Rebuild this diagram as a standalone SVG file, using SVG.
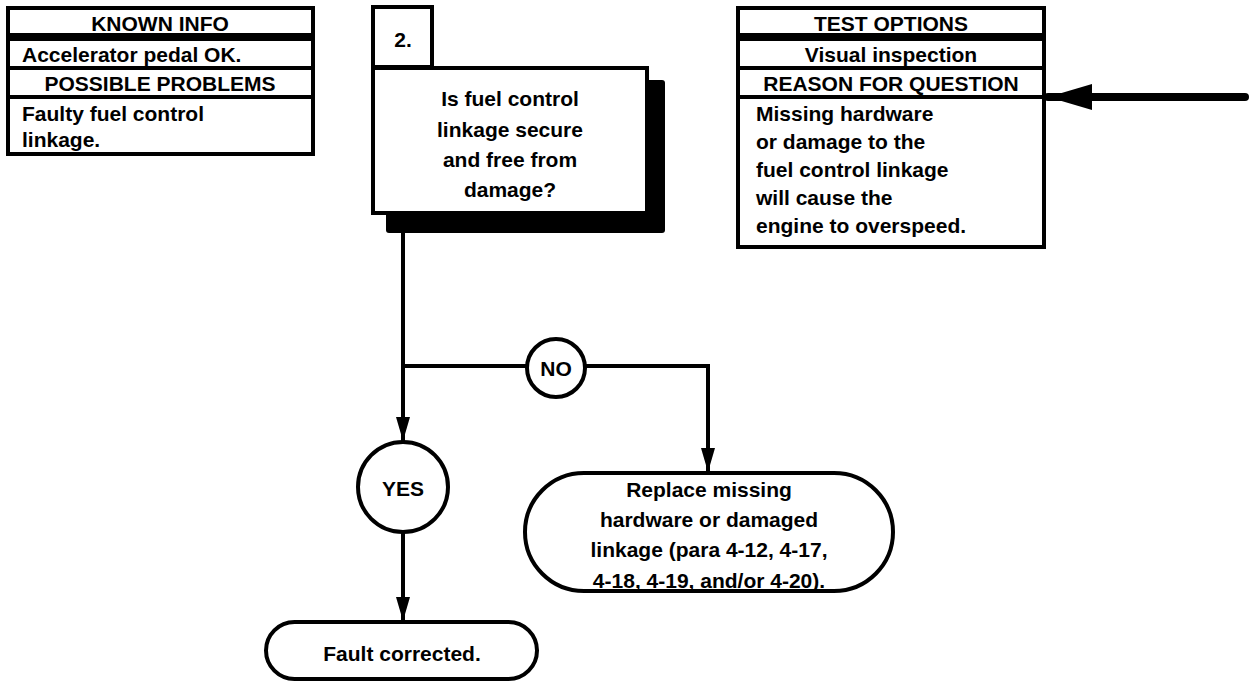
<svg xmlns="http://www.w3.org/2000/svg" width="1249" height="682" viewBox="0 0 1249 682">
<defs>
<style>
.box{fill:#fff;stroke:#000;stroke-width:4}
.ln{fill:none;stroke:#000;stroke-width:4}
.t{font-family:"Liberation Sans",Arial,sans-serif;font-weight:bold;font-size:21px;fill:#000}
.c{text-anchor:middle}
</style>
<marker id="ah" markerUnits="userSpaceOnUse" markerWidth="24" markerHeight="14" refX="24" refY="7" orient="auto">
<path d="M0,0 L24,7 L0,14 z" fill="#000"/>
</marker>
<marker id="ahBig" markerUnits="userSpaceOnUse" markerWidth="44" markerHeight="26" refX="44" refY="13" orient="auto">
<path d="M0,0 L44,13 L0,26 z" fill="#000"/>
</marker>
</defs>
<rect width="1249" height="682" fill="#fff"/>

<g id="known-info">
<rect class="box" x="8" y="8" width="305" height="27"/>
<rect class="box" x="8" y="39" width="305" height="115"/>
<line class="box" x1="8" y1="68" x2="313" y2="68"/>
<line class="box" x1="8" y1="97" x2="313" y2="97"/>
<text class="t c" x="160" y="31">KNOWN INFO</text>
<text class="t" x="22" y="62">Accelerator pedal OK.</text>
<text class="t c" x="160" y="91">POSSIBLE PROBLEMS</text>
<text class="t" x="22" y="121">Faulty fuel control</text>
<text class="t" x="22" y="147">linkage.</text>
</g>

<g id="test-options">
<rect class="box" x="738" y="8" width="306" height="27"/>
<rect class="box" x="738" y="39" width="306" height="208"/>
<line class="box" x1="738" y1="68" x2="1044" y2="68"/>
<line class="box" x1="738" y1="97" x2="1044" y2="97"/>
<text class="t c" x="891" y="31">TEST OPTIONS</text>
<text class="t c" x="891" y="62">Visual inspection</text>
<text class="t c" x="891" y="91">REASON FOR QUESTION</text>
<text class="t" x="756" y="121">Missing hardware</text>
<text class="t" x="756" y="149">or damage to the</text>
<text class="t" x="756" y="177">fuel control linkage</text>
<text class="t" x="756" y="205">will cause the</text>
<text class="t" x="756" y="233">engine to overspeed.</text>
</g>

<g id="step-2">
<rect x="386" y="80" width="279" height="153" rx="3" fill="#000"/>
<rect class="box" x="373" y="7" width="59" height="60"/>
<rect class="box" x="373" y="68" width="274" height="145"/>
<text class="t c" x="403" y="47">2.</text>
<text class="t c" x="510" y="106">Is fuel control</text>
<text class="t c" x="510" y="137">linkage secure</text>
<text class="t c" x="510" y="167">and free from</text>
<text class="t c" x="510" y="197">damage?</text>
</g>

<g id="no">
<circle class="box" cx="556" cy="368" r="29"/>
<text class="t c" x="556" y="376">NO</text>
</g>

<g id="yes">
<circle class="box" cx="403" cy="487" r="45"/>
<text class="t c" x="403" y="496">YES</text>
</g>

<g id="replace">
<rect class="box" x="525" y="473" width="368" height="118" rx="59"/>
<text class="t c" x="709" y="497">Replace missing</text>
<text class="t c" x="709" y="527">hardware or damaged</text>
<text class="t c" x="709" y="557">linkage (para 4-12, 4-17,</text>
<text class="t c" x="709" y="588">4-18, 4-19, and/or 4-20).</text>
</g>

<g id="fault-corrected">
<rect class="box" x="266" y="622" width="271" height="57" rx="28.5"/>
<text class="t c" x="402" y="661">Fault corrected.</text>
</g>

<g id="connectors">
<line class="ln" x1="403" y1="233" x2="403" y2="441" marker-end="url(#ah)"/>
<line class="ln" x1="403" y1="366" x2="527" y2="366"/>
<polyline class="ln" points="585,366 708,366 708,472" marker-end="url(#ah)"/>
<line class="ln" x1="403" y1="532" x2="403" y2="621" marker-end="url(#ah)"/>
<line x1="1245" y1="97" x2="1048" y2="97" stroke="#000" stroke-width="8" stroke-linecap="round" marker-end="url(#ahBig)"/>
</g>
</svg>
